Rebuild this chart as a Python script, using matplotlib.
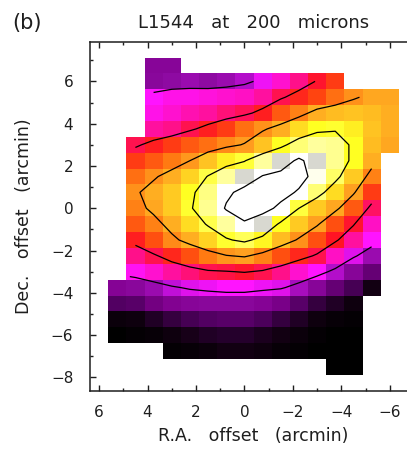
import numpy as np
import matplotlib
matplotlib.use("Agg")
import matplotlib.pyplot as plt
from matplotlib.colors import LinearSegmentedColormap
from matplotlib.ticker import MultipleLocator

# Map grid: 0.75 arcmin pixels (R.A. decreases to the right)
ra_centers = [5.25, 4.5, 3.75, 3.0, 2.25, 1.5, 0.75, 0.0,
              -0.75, -1.5, -2.25, -3.0, -3.75, -4.5, -5.25, -6.0]
dec_centers = [6.75, 6.0, 5.25, 4.5, 3.75, 3.0, 2.25, 1.5, 0.75, 0.0,
               -0.75, -1.5, -2.25, -3.0, -3.75, -4.5, -5.25, -6.0, -6.75, -7.5]

n = np.nan
# Normalised 200 micron surface brightness, one row per Dec. offset
flux = [
    [n, n, 0.27, 0.27, n, n, n, n, n, n, n, n, n, n, n, n],
    [n, n, 0.28, 0.30, 0.31, 0.30, 0.31, 0.33, 0.37, 0.42, 0.46, 0.505, 0.55, n, n, n],
    [n, n, 0.38, 0.40, 0.40, 0.41, 0.42, 0.43, 0.45, 0.49, 0.53, 0.56, 0.60, 0.64, 0.67, 0.67],
    [n, n, 0.40, 0.42, 0.44, 0.45, 0.47, 0.485, 0.52, 0.58, 0.62, 0.68, 0.70, 0.71, 0.70, 0.68],
    [n, n, 0.45, 0.46, 0.49, 0.52, 0.55, 0.60, 0.64, 0.68, 0.74, 0.78, 0.79, 0.76, 0.71, 0.68],
    [n, 0.49, 0.52, 0.55, 0.58, 0.60, 0.63, 0.655, 0.71, 0.78, 0.84, 0.87, 0.86, 0.78, 0.70, 0.67],
    [n, 0.55, 0.58, 0.61, 0.65, 0.71, 0.76, 0.795, 0.87, 0.895, 0.97, 0.895, 0.86, 0.78, 0.68, n],
    [n, 0.60, 0.64, 0.68, 0.73, 0.805, 0.87, 0.895, 0.955, 0.98, 0.98, 0.92, 0.83, 0.72, 0.62, n],
    [n, 0.64, 0.68, 0.72, 0.78, 0.85, 0.93, 0.98, 1.00, 0.98, 0.94, 0.84, 0.74, 0.66, 0.55, n],
    [n, 0.62, 0.67, 0.72, 0.79, 0.86, 0.96, 0.99, 0.98, 0.93, 0.80, 0.72, 0.67, 0.58, 0.48, n],
    [n, 0.58, 0.62, 0.68, 0.74, 0.81, 0.87, 0.94, 0.895, 0.78, 0.72, 0.66, 0.57, 0.505, 0.43, n],
    [n, 0.52, 0.57, 0.63, 0.68, 0.73, 0.79, 0.82, 0.77, 0.70, 0.64, 0.57, 0.51, 0.45, 0.38, n],
    [n, 0.46, 0.49, 0.53, 0.57, 0.61, 0.645, 0.66, 0.62, 0.57, 0.53, 0.49, 0.43, 0.36, 0.31, n],
    [n, 0.39, 0.42, 0.45, 0.47, 0.49, 0.495, 0.505, 0.49, 0.46, 0.42, 0.38, 0.33, 0.27, 0.20, n],
    [0.26, 0.28, 0.31, 0.34, 0.36, 0.37, 0.38, 0.38, 0.37, 0.36, 0.32, 0.27, 0.20, 0.15, 0.05, n],
    [0.17, 0.18, 0.22, 0.25, 0.27, 0.28, 0.28, 0.28, 0.26, 0.23, 0.18, 0.12, 0.08, 0.04, n, n],
    [0.03, 0.04, 0.08, 0.12, 0.15, 0.17, 0.18, 0.18, 0.16, 0.12, 0.08, 0.04, 0.02, 0.01, n, n],
    [0.00, 0.01, 0.02, 0.04, 0.06, 0.08, 0.09, 0.09, 0.07, 0.05, 0.03, 0.01, 0.00, 0.00, n, n],
    [n, n, n, 0.01, 0.02, 0.03, 0.05, 0.05, 0.04, 0.02, 0.01, 0.00, 0.00, 0.00, n, n],
    [n, n, n, n, n, n, n, n, n, n, n, n, 0.00, 0.00, n, n],
]
contour_levels = [0.35, 0.50, 0.65, 0.80, 0.95]

x_ticks = [6, 4, 2, 0, -2, -4, -6]
y_ticks = [6, 4, 2, 0, -2, -4, -6, -8]

# Black -> purple -> magenta -> red -> orange -> yellow -> white table
cmap_nodes = [
    (0.000, "#000000"), (0.050, "#120012"), (0.100, "#2a0032"),
    (0.170, "#520062"), (0.240, "#80008e"), (0.300, "#8e0aa2"),
    (0.340, "#c010d8"), (0.380, "#ff14ff"), (0.430, "#ff10c4"),
    (0.470, "#ff1078"), (0.510, "#ff1424"), (0.560, "#ff4410"),
    (0.610, "#ff7a12"), (0.660, "#ffa020"), (0.720, "#ffca22"),
    (0.780, "#ffff22"), (0.840, "#ffff74"), (0.884, "#ffffb0"),
    (0.886, "#d8d8d0"), (0.904, "#d8d8d0"), (0.906, "#ffffd0"),
    (0.930, "#ffffff"), (1.000, "#ffffff"),
]
cmap = LinearSegmentedColormap.from_list("heat200", cmap_nodes, N=1024)

Z = np.ma.masked_invalid(np.array(flux, dtype=float))
X = np.array(ra_centers)
Y = np.array(dec_centers)

ink = "#1e1e1e"
fig = plt.figure(figsize=(4.07, 4.51), dpi=100)
ax = fig.add_axes([90 / 407, 60.3 / 451, 327 / 407, 349 / 451])

ax.pcolormesh(X, Y, Z, cmap=cmap, vmin=0.0, vmax=1.0, shading="nearest")
ax.contour(X, Y, Z, levels=contour_levels, colors="black", linewidths=0.9)

ax.set_xlim(6.375, -7.125)
ax.set_ylim(-8.625, 7.875)

ax.set_xticks(x_ticks)
ax.set_yticks(y_ticks)
ax.xaxis.set_minor_locator(MultipleLocator(1))
ax.yaxis.set_minor_locator(MultipleLocator(1))
ax.tick_params(which="both", direction="in", top=True, right=True,
               colors=ink, labelsize=11)
ax.tick_params(which="major", length=4.5, width=1.0)
ax.tick_params(which="minor", length=2.5, width=1.0)
ax.tick_params(axis="x", which="major", pad=10)
ax.tick_params(axis="y", which="major", pad=12)
for sp in ax.spines.values():
    sp.set_linewidth(1.1)
    sp.set_color(ink)

ax.set_xlabel("R.A.   offset   (arcmin)", fontsize=12.5, color=ink)
ax.set_ylabel("Dec.   offset   (arcmin)", fontsize=12.5, color=ink)
ax.xaxis.set_label_coords(0.5, (390.7 - 427) / 349)
ax.xaxis.label.set_va("top")
ax.yaxis.set_label_coords((15 - 90) / 327, 0.5)
ax.yaxis.label.set_va("top")
ax.set_title("L1544   at   200   microns", fontsize=13, pad=10, color=ink)
fig.text(12 / 407, 1 - 23 / 451, "(b)", fontsize=15, va="center", ha="left",
         color=ink)

fig.savefig("out.png", dpi=100)
